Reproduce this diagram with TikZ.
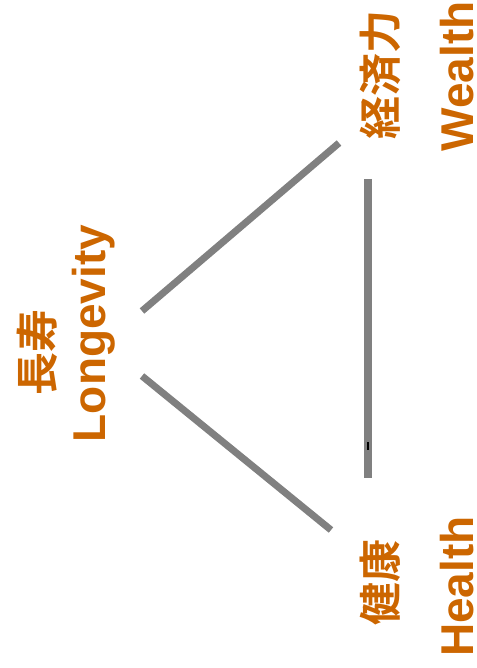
\documentclass[tikz,border=0pt]{standalone}
\usepackage{fontspec}
\setmainfont{Liberation Sans}
\newfontfamily\cjk{Noto Sans CJK JP}[BoldFont={* Bold}]
\definecolor{lbl}{RGB}{204,102,0}
\definecolor{edge}{RGB}{128,128,128}
\begin{document}
\begin{tikzpicture}[x=1pt,y=-1pt,
  en/.style={font=\fontsize{46}{50}\selectfont\bfseries, text=lbl, inner sep=0pt, rotate=90, anchor=base},
  jp/.style={font=\cjk\fontsize{43}{48}\selectfont\bfseries, text=lbl, inner sep=0pt, rotate=90, anchor=base},
  link/.style={draw=edge, line width=7pt}]
\useasboundingbox (0,0) rectangle (476,668);
\node[jp] (jlong) at (53,352) {長寿};
\node[en] (long) at (105,333.5) {Longevity};
\node[jp] (jwealth) at (396,75) {経済力};
\node[en] (wealth) at (473,76.5) {Wealth};
\node[jp] (jhealth) at (396,582) {健康};
\node[en] (health) at (473,586.5) {Health};
\coordinate (a1) at (142,311);
\coordinate (a2) at (339,143);
\coordinate (b1) at (142,376);
\coordinate (b2) at (331,530);
\coordinate (c1) at (368,179);
\coordinate (c2) at (368,478);
\draw[link] (a1) -- (a2);
\draw[link] (b1) -- (b2);
\draw[link, line width=8pt] (c1) -- (c2);
\fill[black] (366.5,442) rectangle (368.5,450);
\end{tikzpicture}
\end{document}
